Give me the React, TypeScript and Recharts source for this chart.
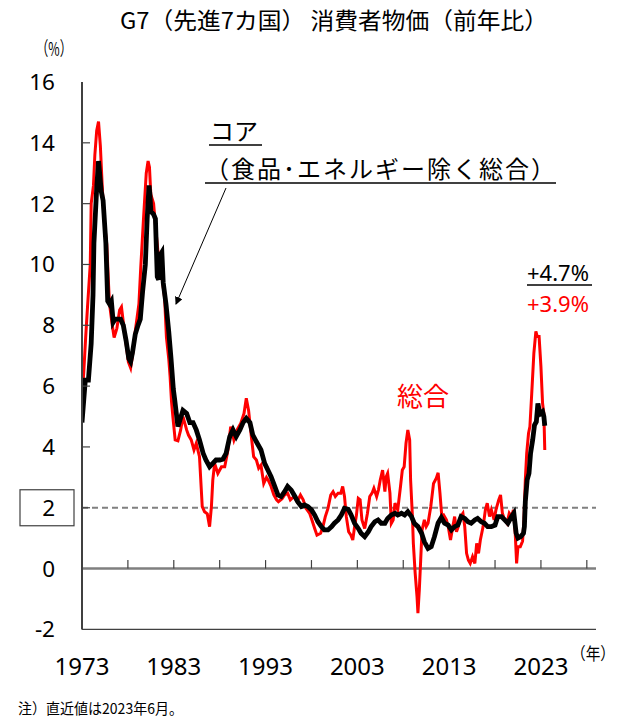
import React from 'react';
import { LineChart, Line, XAxis, YAxis, ReferenceLine } from 'recharts';

// G7 core CPI (excl. food & energy), y/y %, [year, value]
const coreCPI: [number, number][] = [
  [1973.0, 4.8], [1973.36, 6.2], [1973.7, 6.2], [1974.0, 7.4], [1974.2, 9.0], [1974.3, 10.7], [1974.6, 12.5], [1974.8, 13.4],
  [1975.1, 12.4], [1975.3, 12.1], [1975.6, 10.7], [1975.8, 8.8], [1976.0, 8.7], [1976.2, 8.8], [1976.4, 8.1], [1976.6, 8.2],
  [1976.9, 8.2], [1977.2, 8.2], [1977.5, 8.0], [1977.8, 7.5], [1978.1, 6.9], [1978.3, 6.8], [1978.5, 7.1], [1978.8, 7.7],
  [1979.1, 8.0], [1979.35, 8.2], [1979.6, 9.1], [1979.9, 10.0], [1980.1, 11.5], [1980.3, 12.6], [1980.4, 12.3], [1980.5, 11.75],
  [1980.8, 11.65], [1981.0, 11.5], [1981.2, 9.6], [1981.35, 9.5], [1981.5, 10.3], [1981.7, 10.4], [1981.85, 9.4], [1982.15, 8.7],
  [1982.45, 7.8], [1982.7, 6.9], [1982.95, 5.9], [1983.1, 5.55], [1983.45, 4.67], [1984.0, 5.2], [1984.4, 5.1], [1984.75, 4.8],
  [1985.1, 4.8], [1985.45, 4.56], [1985.8, 4.23], [1986.2, 3.79], [1986.5, 3.57], [1986.9, 3.35], [1987.25, 3.46], [1987.6, 3.57],
  [1988.0, 3.57], [1988.35, 3.6], [1988.7, 3.79], [1989.1, 4.34], [1989.45, 4.56], [1989.8, 4.34], [1990.2, 4.56], [1990.55, 4.8],
  [1990.9, 4.94], [1991.3, 4.8], [1991.6, 4.4], [1992.0, 4.17], [1992.5, 3.9], [1992.9, 3.46], [1993.25, 3.24], [1993.6, 3.02],
  [1994.0, 2.7], [1994.35, 2.42], [1994.7, 2.37], [1995.07, 2.53], [1995.4, 2.7], [1995.8, 2.58], [1996.2, 2.37], [1996.5, 2.2],
  [1996.9, 2.04], [1997.25, 2.09], [1997.6, 2.04], [1998.0, 1.93], [1998.35, 1.76], [1998.7, 1.54], [1999.07, 1.38], [1999.4, 1.27],
  [1999.8, 1.27], [2000.2, 1.38], [2000.5, 1.49], [2000.9, 1.6], [2001.25, 1.76], [2001.6, 1.98], [2002.0, 1.95], [2002.3, 1.78],
  [2002.7, 1.49], [2003.1, 1.32], [2003.4, 1.16], [2003.8, 1.05], [2004.2, 1.21], [2004.5, 1.38], [2004.9, 1.54], [2005.25, 1.6],
  [2005.6, 1.49], [2006.0, 1.49], [2006.3, 1.65], [2006.7, 1.76], [2007.1, 1.82], [2007.4, 1.76], [2007.8, 1.82], [2008.15, 1.76],
  [2008.5, 1.87], [2008.9, 1.71], [2009.2, 1.49], [2009.6, 1.38], [2010.0, 1.16], [2010.3, 0.88], [2010.7, 0.66], [2011.05, 0.72],
  [2011.4, 1.05], [2011.8, 1.5], [2012.15, 1.68], [2012.5, 1.49], [2012.9, 1.43], [2013.25, 1.27], [2013.6, 1.38], [2013.95, 1.43],
  [2014.3, 1.71], [2014.7, 1.65], [2015.05, 1.54], [2015.4, 1.49], [2015.8, 1.6], [2016.1, 1.65], [2016.5, 1.54], [2016.85, 1.49],
  [2017.2, 1.38], [2017.6, 1.38], [2018.0, 1.43], [2018.3, 1.71], [2018.7, 1.71], [2019.05, 1.6], [2019.4, 1.49], [2019.8, 1.71],
  [2020.05, 1.82], [2020.3, 1.16], [2020.5, 1.0], [2020.8, 1.05], [2021.1, 1.16], [2021.2, 1.38], [2021.3, 2.2], [2021.5, 2.92],
  [2021.7, 3.13], [2021.87, 3.79], [2022.1, 4.23], [2022.3, 4.72], [2022.5, 4.83], [2022.67, 5.43], [2022.8, 5.22], [2022.96, 5.1],
  [2023.18, 5.16], [2023.32, 5.0], [2023.42, 4.7],
];

// G7 headline CPI, y/y %, [year, value]
const headlineCPI: [number, number][] = [
  [1973.0, 5.6], [1973.2, 6.5], [1973.4, 7.6], [1973.6, 8.6], [1973.9, 10.0], [1974.0, 12.0], [1974.25, 12.6], [1974.4, 13.6],
  [1974.6, 14.4], [1974.8, 14.7], [1975.0, 13.9], [1975.2, 12.6], [1975.4, 11.5], [1975.7, 10.65], [1975.9, 9.3], [1976.0, 8.7],
  [1976.3, 8.0], [1976.5, 7.6], [1976.8, 7.9], [1977.1, 8.5], [1977.3, 8.6], [1977.5, 8.1], [1977.8, 7.4], [1978.05, 6.8],
  [1978.3, 6.6], [1978.5, 7.0], [1978.8, 7.8], [1979.2, 8.7], [1979.4, 9.9], [1979.7, 11.5], [1980.0, 13.0], [1980.2, 13.4],
  [1980.35, 13.2], [1980.5, 12.3], [1980.8, 12.0], [1981.0, 11.3], [1981.25, 10.5], [1981.5, 10.0], [1981.7, 9.6], [1982.0, 8.9],
  [1982.2, 7.6], [1982.45, 6.9], [1982.6, 6.3], [1982.75, 5.5], [1982.9, 5.0], [1983.15, 4.23], [1983.45, 4.2], [1983.75, 4.56],
  [1984.0, 5.0], [1984.4, 4.56], [1984.6, 4.39], [1984.9, 4.23], [1985.2, 3.9], [1985.45, 4.12], [1985.8, 3.68], [1986.1, 2.04],
  [1986.35, 1.87], [1986.65, 1.8], [1986.9, 1.38], [1987.1, 2.04], [1987.25, 2.91], [1987.45, 3.46], [1987.8, 3.13], [1988.2, 3.35],
  [1988.55, 3.35], [1988.9, 3.9], [1989.2, 4.67], [1989.55, 4.23], [1989.9, 4.56], [1990.3, 4.78], [1990.65, 5.1], [1990.9, 5.6],
  [1991.15, 5.2], [1991.45, 4.34], [1991.7, 3.68], [1992.0, 3.57], [1992.25, 3.3], [1992.5, 3.4], [1992.8, 2.8], [1993.1, 3.0],
  [1993.3, 2.9], [1993.6, 2.7], [1993.9, 2.42], [1994.2, 2.26], [1994.4, 2.2], [1994.8, 2.3], [1995.07, 2.42], [1995.4, 2.48],
  [1995.7, 2.26], [1996.1, 2.37], [1996.45, 2.2], [1996.8, 2.42], [1997.1, 2.26], [1997.4, 1.98], [1997.8, 1.82], [1998.05, 1.6],
  [1998.35, 1.32], [1998.6, 1.1], [1999.0, 1.16], [1999.25, 1.38], [1999.5, 1.7], [1999.8, 1.98], [2000.1, 2.42], [2000.35, 2.53],
  [2000.6, 2.37], [2000.9, 2.48], [2001.2, 2.48], [2001.4, 2.7], [2001.6, 2.37], [2001.8, 1.7], [2002.05, 1.21], [2002.3, 1.1],
  [2002.5, 0.94], [2002.7, 1.38], [2002.9, 1.76], [2003.1, 2.31], [2003.3, 2.26], [2003.5, 1.6], [2003.8, 1.32], [2004.1, 1.82],
  [2004.35, 2.37], [2004.6, 2.48], [2004.8, 2.64], [2005.1, 2.37], [2005.3, 2.59], [2005.5, 2.92], [2005.75, 3.24], [2006.0, 2.53],
  [2006.15, 3.02], [2006.3, 3.13], [2006.55, 2.48], [2006.7, 1.49], [2006.9, 1.6], [2007.1, 2.15], [2007.4, 1.93], [2007.7, 2.7],
  [2007.9, 3.24], [2008.1, 3.35], [2008.3, 4.12], [2008.5, 4.56], [2008.7, 4.23], [2008.8, 2.92], [2009.0, 1.71], [2009.1, 0.83],
  [2009.3, -0.16], [2009.5, -0.92], [2009.6, -1.47], [2009.75, -0.7], [2009.9, 0.28], [2010.05, 1.27], [2010.3, 1.6], [2010.5, 1.38],
  [2010.7, 1.49], [2011.0, 2.04], [2011.3, 2.8], [2011.6, 2.97], [2011.8, 3.15], [2012.0, 2.48], [2012.2, 1.71], [2012.4, 1.76],
  [2012.7, 1.6], [2012.9, 1.38], [2013.15, 0.94], [2013.4, 1.38], [2013.6, 1.71], [2013.8, 1.21], [2014.0, 1.38], [2014.25, 1.71],
  [2014.5, 1.82], [2014.7, 1.38], [2014.9, 0.5], [2015.1, 0.28], [2015.3, 0.17], [2015.55, 0.39], [2015.8, 0.17], [2016.0, 0.83],
  [2016.2, 0.5], [2016.4, 0.94], [2016.7, 1.38], [2016.95, 1.93], [2017.15, 2.15], [2017.4, 1.71], [2017.6, 1.93], [2017.9, 1.6],
  [2018.1, 1.93], [2018.4, 2.26], [2018.6, 2.42], [2018.8, 1.82], [2019.05, 1.6], [2019.3, 1.49], [2019.55, 1.82], [2019.8, 1.71],
  [2020.0, 1.93], [2020.2, 1.16], [2020.35, 0.17], [2020.5, 0.72], [2020.75, 0.72], [2021.0, 0.9], [2021.15, 1.6], [2021.3, 2.92],
  [2021.45, 3.79], [2021.65, 4.45], [2021.8, 4.67], [2022.0, 5.77], [2022.23, 7.08], [2022.45, 7.8], [2022.6, 7.63], [2022.8, 7.63],
  [2023.0, 6.64], [2023.18, 5.43], [2023.32, 5.1], [2023.42, 3.9],
];

const xLabelYears = [1973, 1983, 1993, 2003, 2013, 2023];
const xMinorTicks = [1978, 1983, 1988, 1993, 1998, 2003, 2008, 2013, 2018, 2023, 2028];
const yTicks = [-2, 0, 2, 4, 6, 8, 10, 12, 14, 16];
const targetLine = 2;
const latestCore = '+4.7%';
const latestHeadline = '+3.9%';

const coreData = coreCPI.map(([year, v]) => ({ year, v }));
const headlineData = headlineCPI.map(([year, v]) => ({ year, v }));

const NUM_FONT = '"Noto Sans", "Liberation Sans", sans-serif';
const JP_FONT = '"Noto Sans CJK JP", "Noto Sans", sans-serif';

const YTick = (props: any) => {
  const { x, y, payload } = props;
  const val = payload.value;
  return (
    <g>
      {val !== 16 && val !== 0 && val !== -2 && (
        <line x1={x} x2={x + 8} y1={y} y2={y} stroke="#404040" strokeWidth={1.2} />
      )}
      {val === targetLine && (
        <rect x={20} y={y - 18} width={54} height={36} fill="none" stroke="#404040" strokeWidth={1.2} />
      )}
      <text x={x - 27} y={y + 8} textAnchor="end" fontSize={22.5} fontFamily={NUM_FONT} fill="#000">
        {val}
      </text>
    </g>
  );
};

const XTick = (props: any) => {
  const { x, y, payload } = props;
  return (
    <text x={x} y={y + 46} textAnchor="middle" fontSize={24} fontFamily={NUM_FONT} fill="#000">
      {payload.value}
    </text>
  );
};

export default function App() {
  return (
    <div style={{ position: 'absolute', left: 0, top: 0, width: 629, height: 722, background: '#fff' }}>
      <LineChart width={629} height={722} margin={{ top: 82, right: 33, bottom: 52.6, left: 0 }}>
        <XAxis
          dataKey="year"
          type="number"
          domain={[1973, 2029]}
          ticks={xLabelYears}
          tick={<XTick />}
          tickSize={0}
          tickMargin={0}
          height={40}
          axisLine={{ stroke: '#404040', strokeWidth: 1.2 }}
          allowDataOverflow
        />
        <XAxis
          xAxisId="top"
          orientation="top"
          dataKey="year"
          type="number"
          domain={[1973, 2029]}
          tick={false}
          tickLine={false}
          height={0}
          axisLine={{ stroke: '#404040', strokeWidth: 1.2 }}
        />
        <YAxis
          type="number"
          domain={[-2, 16]}
          ticks={yTicks}
          tick={<YTick />}
          tickSize={0}
          tickMargin={0}
          width={82}
          interval={0}
          axisLine={{ stroke: '#404040', strokeWidth: 2 }}
          allowDataOverflow
        />
        <YAxis
          yAxisId="right"
          orientation="right"
          type="number"
          domain={[-2, 16]}
          tick={false}
          tickLine={false}
          width={0}
          axisLine={{ stroke: '#404040', strokeWidth: 1.2 }}
        />
        <ReferenceLine y={0} stroke="#7f7f7f" strokeWidth={2.5} />
        <ReferenceLine y={targetLine} stroke="#808080" strokeWidth={2} strokeDasharray="6 4" />
        {xMinorTicks.map((yr) => (
          <ReferenceLine
            key={yr}
            segment={[{ x: yr, y: 0 }, { x: yr, y: 0.28 }]}
            stroke="#404040"
            strokeWidth={1.2}
          />
        ))}
        <Line
          data={headlineData}
          dataKey="v"
          type="linear"
          stroke="#ff0000"
          strokeWidth={3}
          dot={false}
          isAnimationActive={false}
        />
        <Line
          data={coreData}
          dataKey="v"
          type="linear"
          stroke="#000000"
          strokeWidth={4.8}
          dot={false}
          isAnimationActive={false}
        />
      </LineChart>
      <svg
        width={629}
        height={722}
        style={{ position: 'absolute', left: 0, top: 0, pointerEvents: 'none' }}
      >
        <defs>
          <marker id="arrowHead" markerWidth="8" markerHeight="8" refX="7" refY="4" orient="auto" markerUnits="userSpaceOnUse">
            <path d="M0,0 L8,4 L0,8 Z" fill="#000" />
          </marker>
        </defs>
        <text x={120} y={29} fontSize={23} fontFamily={JP_FONT} fill="#000" textLength={428} lengthAdjust="spacingAndGlyphs">
          G7（先進7カ国） 消費者物価（前年比）
        </text>
        <text x={36} y={56} fontSize={19} fontFamily={JP_FONT} fill="#000" textLength={36} lengthAdjust="spacingAndGlyphs">（%）</text>
        <text x={571} y={660} fontSize={17} fontFamily={JP_FONT} fill="#000" textLength={44} lengthAdjust="spacingAndGlyphs">（年）</text>
        <text x={18} y={714} fontSize={15} fontFamily={JP_FONT} fill="#000" textLength={165} lengthAdjust="spacingAndGlyphs">注）直近値は2023年6月。</text>

        <text x={210} y={140} fontSize={24} fontFamily={JP_FONT} fill="#000">コア</text>
        <line x1={209} x2={262} y1={145} y2={145} stroke="#000" strokeWidth={1.5} />
        <text x={205} y={178} fontSize={24} fontFamily={JP_FONT} fill="#000" textLength={350} lengthAdjust="spacing">
          （食品･エネルギー除く総合）
        </text>
        <line x1={205} x2={556} y1={183} y2={183} stroke="#000" strokeWidth={1.5} />
        <line x1={226} y1={188} x2={176} y2={304} stroke="#000" strokeWidth={1} markerEnd="url(#arrowHead)" />

        <text x={397} y={406} fontSize={26} fontFamily={JP_FONT} fill="#ff0000">総合</text>

        <text x={527} y={281} fontSize={22} fontFamily={NUM_FONT} fill="#000">{latestCore}</text>
        <line x1={527} x2={592} y1={285} y2={285} stroke="#000" strokeWidth={1.5} />
        <text x={527} y={312} fontSize={22} fontFamily={NUM_FONT} fill="#ff0000">{latestHeadline}</text>
      </svg>
    </div>
  );
}
